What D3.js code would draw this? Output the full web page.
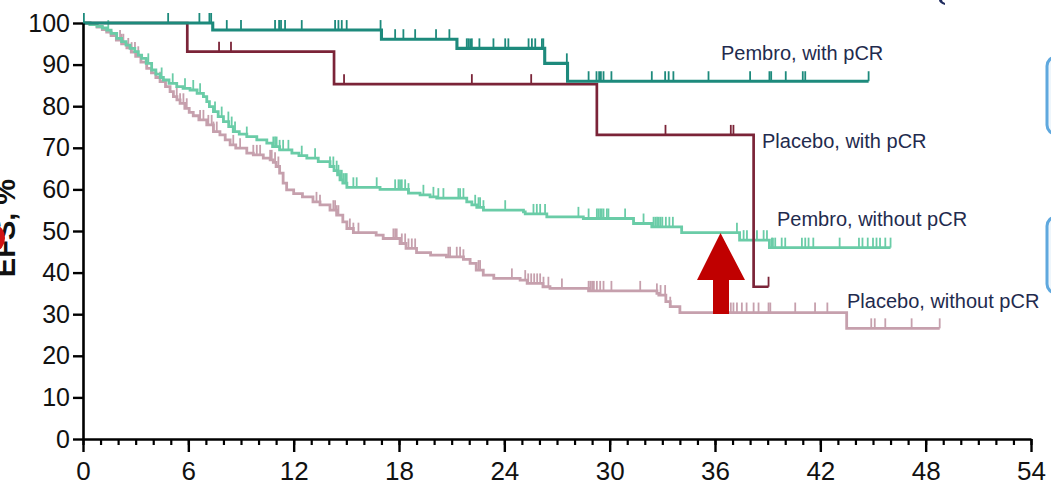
<!DOCTYPE html>
<html>
<head>
<meta charset="utf-8">
<script src="https://cdn.jsdelivr.net/npm/d3@7"></script>
<style>
  html, body { margin: 0; padding: 0; background: #fff; }
  svg { display: block; }
  text { font-family: "Liberation Sans", Arial, sans-serif; }
</style>
</head>
<body>
<svg id="chart" width="1051" height="498"></svg>
<script>
// ---------- DATA ----------
const xTickLabels = [0, 6, 12, 18, 24, 30, 36, 42, 48, 54];
const yTickLabels = [0, 10, 20, 30, 40, 50, 60, 70, 80, 90, 100];
const yAxisTitle = "EFS, %";
const seriesNames = ["Pembro, with pCR", "Placebo, with pCR", "Pembro, without pCR", "Placebo, without pCR"];

// Kaplan-Meier step points: [month, EFS %]
const pembroPcr = [[0,100],[7.39,98.3],[17.0,96.1],[21.3,93.9],[26.3,90.3],[27.6,86.0],[44.75,86.0]];
const placeboPcr = [[0,100],[5.94,93.1],[14.3,85.3],[29.27,73.1],[38.2,36.6],[39.05,36.6]];
const pembroNoPcr = [[0,100],[0.4,99.6],[0.8,99.2],[1.1,98.8],[1.35,98.3],[1.6,97.5],[1.92,96.3],[2.2,95.5],[2.45,94.7],[2.68,93.9],[2.95,93.1],[3.15,92.3],[3.34,91.5],[3.6,90.3],[3.91,88.7],[4.15,87.7],[4.4,86.9],[4.58,86.3],[4.9,85.5],[5.34,84.7],[5.7,84.3],[6.1,83.9],[6.5,83.1],[6.86,82.3],[7.05,81.1],[7.2,79.9],[7.43,78.7],[7.7,77.5],[8.0,76.3],[8.3,75.1],[8.56,73.9],[8.9,73.3],[9.33,72.7],[9.9,71.9],[10.47,71.1],[10.8,70.3],[11.2,69.5],[11.9,68.7],[12.3,68.1],[12.75,67.5],[13.4,66.7],[14.07,65.5],[14.3,64.5],[14.5,63.5],[14.64,62.3],[14.8,61.5],[15.03,60.5],[16.92,60.0],[18.54,59.1],[19.2,58.7],[19.77,58.2],[20.15,57.9],[21.86,57.0],[22.15,56.3],[22.43,55.7],[22.81,55.0],[25.09,54.6],[25.19,54.1],[26.42,53.4],[28.5,53.0],[31.36,51.8],[32.4,51.0],[34.1,49.6],[37.4,47.8],[39.1,46.0],[46.0,46.0]];
const placeboNoPcr = [[0,100],[0.4,99.6],[0.8,99.0],[1.1,98.4],[1.35,97.8],[1.6,97.0],[1.9,95.9],[2.2,95.0],[2.5,94.0],[2.75,93.0],[3.0,92.0],[3.3,90.6],[3.63,89.1],[3.9,88.0],[4.15,86.9],[4.39,85.9],[4.7,84.7],[4.96,83.5],[5.15,82.3],[5.35,81.5],[5.53,80.7],[5.8,79.5],[6.05,78.5],[6.28,77.7],[6.6,76.7],[7.05,75.5],[7.43,73.9],[7.8,73.1],[8.1,71.9],[8.38,70.7],[8.7,69.9],[9.33,68.7],[9.7,68.3],[10.27,67.5],[10.66,67.1],[10.84,66.5],[11.0,65.5],[11.2,63.9],[11.4,61.5],[11.6,59.9],[12.0,59.0],[12.5,58.2],[13.1,57.0],[13.5,56.3],[14.07,55.0],[14.45,53.8],[14.8,52.2],[15.03,50.6],[15.4,49.6],[16.7,49.0],[17.1,48.2],[18.06,47.0],[18.4,45.8],[19.0,44.8],[19.8,44.2],[20.7,43.8],[21.67,43.2],[22.05,42.2],[22.4,40.6],[22.8,39.4],[23.4,38.6],[24.9,38.2],[25.3,37.4],[26.2,36.6],[26.6,36.2],[28.8,35.6],[32.69,35.0],[32.8,34.6],[33.2,33.0],[33.45,31.8],[34.0,30.4],[43.5,26.6],[48.8,26.6]];

// censored observations (months)
const pembroPcrCensor = [0.05,4.85,6.63,7.2,7.3,8.19,9.0,10.94,11.17,11.28,11.51,12.46,14.36,14.55,14.74,15.02,16.95,17.78,18.25,18.92,20.11,20.87,21.86,21.95,22.05,22.15,22.58,23.38,24.05,24.23,25.38,25.57,25.76,26.14,26.22,27.56,28.8,29.25,29.4,29.5,29.65,30.1,32.4,33.16,33.36,33.63,35.63,38.0,39.1,39.2,40.03,41.0,41.14,44.75];
const placeboPcrCensor = [7.75,8.43,14.87,22.15,25.53,33.18,36.9,37.05,39.05];
const pembroNoPcrCensor = [1.44,3.72,4.48,5.11,5.81,6.28,6.67,7.52,7.9,8.28,8.47,8.66,9.33,10.84,10.94,11.03,11.2,11.4,11.7,12.46,13.22,14.07,14.26,14.45,14.55,14.64,14.74,14.83,14.93,15.02,15.4,15.59,16.73,17.78,17.97,18.06,18.16,18.35,18.54,19.39,19.96,20.24,20.53,21.38,21.48,21.67,22.34,22.53,22.62,22.81,24.05,25.66,25.85,26.04,26.32,28.22,28.8,29.27,29.36,29.46,29.55,29.65,29.84,29.93,30.88,31.93,32.5,32.6,32.7,32.8,32.9,33.0,33.2,33.4,33.6,37.25,37.63,37.82,38.39,38.77,38.96,39.24,39.3,39.43,39.8,40.0,40.95,41.14,41.33,41.6,43.1,44.2,44.4,44.7,45.0,45.2,45.4,45.7,46.0];
const placeboNoPcrCensor = [2.11,2.2,2.3,2.58,2.77,2.96,3.15,3.63,4.39,5.34,5.53,5.72,5.91,6.67,6.86,7.14,7.33,7.43,7.62,8.56,8.95,9.7,9.9,10.09,10.66,10.75,10.94,11.13,13.3,13.5,14.26,14.36,14.45,14.55,15.2,15.4,15.69,17.68,17.78,17.87,18.16,18.35,18.54,18.73,18.92,20.81,20.91,21.29,21.48,21.67,22.53,22.62,24.43,25.19,25.36,25.53,25.7,25.87,26.04,26.23,26.51,27.28,28.8,28.9,29.0,29.1,29.27,29.46,29.65,30.1,31.74,32.69,32.9,33.16,33.45,36.9,37.05,37.25,37.53,37.8,38.2,38.48,39.05,39.15,40.57,41.7,42.4,44.9,45.1,45.7,47.2,48.8];

// ---------- DRAW ----------
const svg = d3.select("#chart");
svg.append("rect").attr("width", 1051).attr("height", 498).attr("fill", "#fff");

const x = d3.scaleLinear().domain([0, 54]).range([83, 1031]);
const y = d3.scaleLinear().domain([0, 100]).range([439, 23]);

// decorative shapes at the right edge / top (fragments of surrounding slide)
svg.append("rect").attr("x", 1047).attr("y", 57).attr("width", 30).attr("height", 77).attr("rx", 9)
  .attr("fill", "#eef6fc").attr("stroke", "#5fa8de").attr("stroke-width", 3);
svg.append("rect").attr("x", 1047).attr("y", 217).attr("width", 30).attr("height", 76).attr("rx", 9)
  .attr("fill", "#eef6fc").attr("stroke", "#5fa8de").attr("stroke-width", 3);
svg.append("path").attr("d", "M939,0 Q939,3 945,5 L945,3 Q942,2 942,0 Z").attr("fill", "#1f2b5e");

// series
const series = [
  { name: seriesNames[3], data: placeboNoPcr, censor: placeboNoPcrCensor, color: "#c6a0ad", width: 2.8 },
  { name: seriesNames[2], data: pembroNoPcr, censor: pembroNoPcrCensor, color: "#6acca7", width: 2.8 },
  { name: seriesNames[1], data: placeboPcr, censor: placeboPcrCensor, color: "#7b2438", width: 2.7 },
  { name: seriesNames[0], data: pembroPcr, censor: pembroPcrCensor, color: "#1d8a7c", width: 3.1 }
];

const line = d3.line().x(d => x(d[0])).y(d => y(d[1])).curve(d3.curveStepAfter);
function survAt(data, t) {
  let v = data[0][1];
  for (const p of data) { if (p[0] <= t) v = p[1]; else break; }
  return v;
}

series.forEach(s => {
  const g = svg.append("g");
  g.append("path").datum(s.data).attr("d", line)
    .attr("fill", "none").attr("stroke", s.color).attr("stroke-width", s.width);
  g.selectAll("line.c").data(s.censor).join("line")
    .attr("x1", d => x(d)).attr("x2", d => x(d))
    .attr("y1", d => y(survAt(s.data, d))).attr("y2", d => y(survAt(s.data, d)) - 10)
    .attr("stroke", s.color).attr("stroke-width", 1.8);
});

// axes
const xMinor = d3.axisBottom(x).tickValues(d3.range(0, 55, 1)).tickSize(6).tickSizeOuter(0).tickFormat("");
const gxm = svg.append("g").attr("transform", "translate(0,439)").call(xMinor);
gxm.select(".domain").remove();
gxm.selectAll("line").attr("stroke", "#000").attr("stroke-width", 2.2);

const xAxis = d3.axisBottom(x).tickValues(xTickLabels).tickSize(13).tickSizeOuter(0).tickPadding(10).tickFormat(d3.format("d"));
const gx = svg.append("g").attr("transform", "translate(0,439)").call(xAxis);
gx.select(".domain").attr("stroke", "#000").attr("stroke-width", 2.6);
gx.selectAll("line").attr("stroke", "#000").attr("stroke-width", 2.4);
gx.selectAll("text").attr("font-size", 26).attr("fill", "#111").attr("font-family", "Liberation Sans, Arial, sans-serif");

const yAxis = d3.axisLeft(y).tickValues(yTickLabels).tickSize(10).tickSizeOuter(0).tickPadding(3).tickFormat(d3.format("d"));
const gy = svg.append("g").attr("transform", "translate(83,0)").call(yAxis);
gy.select(".domain").attr("stroke", "#000").attr("stroke-width", 2.6);
gy.selectAll("line").attr("stroke", "#000").attr("stroke-width", 2.4);
gy.selectAll("text").attr("font-size", 25).attr("fill", "#111").attr("font-family", "Liberation Sans, Arial, sans-serif");

// y axis title (cropped at the left edge as in the source) and red annotation
svg.append("text").attr("transform", "translate(15,228) rotate(-90)")
  .attr("text-anchor", "middle").attr("font-size", 29).attr("font-weight", "bold").attr("fill", "#111")
  .text(yAxisTitle);
svg.append("ellipse").attr("cx", -5).attr("cy", 238).attr("rx", 10).attr("ry", 13).attr("fill", "#d01414");

// series labels
const labelPos = [[721, 60], [762, 148], [777, 226], [847, 308]];
seriesNames.forEach((n, i) => {
  svg.append("text").attr("x", labelPos[i][0]).attr("y", labelPos[i][1])
    .attr("font-size", 20).attr("fill", "#1f2b4e").text(n);
});

// red arrow
svg.append("path")
  .attr("d", "M720.5,233 L745,280 L729,280 L729,314 L713,314 L713,280 L697,280 Z")
  .attr("fill", "#c00000");
</script>
</body>
</html>
